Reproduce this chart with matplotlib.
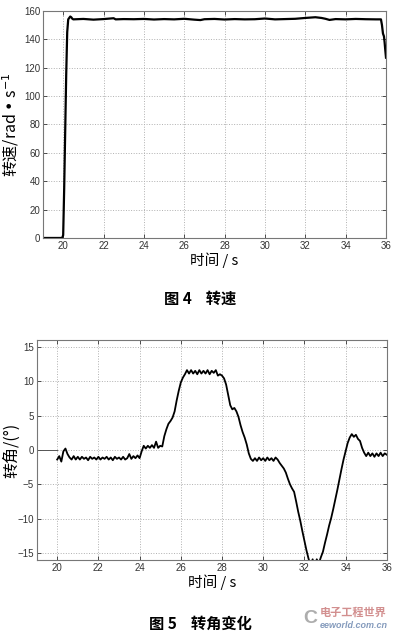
import numpy as np
import matplotlib.pyplot as plt

plt.rcParams['font.family'] = ['Liberation Sans', 'Noto Sans CJK SC', 'DejaVu Sans']

# --- Fig.4 speed data (rad/s) ---
speed_t = [19.0, 19.95, 20.0, 20.05, 20.1, 20.15, 20.2, 20.25, 20.3, 20.35, 20.4, 20.45,
           20.5, 21.0, 21.5, 22.0, 22.5, 22.6, 23.0, 23.5, 24.0, 24.5, 25.0, 25.5,
           26.0, 26.5, 26.8, 27.0, 27.5, 28.0, 28.5, 29.0, 29.5, 30.0, 30.5, 31.0,
           31.5, 32.0, 32.5, 32.8, 33.0, 33.2, 33.5, 34.0, 34.5, 35.0, 35.5, 35.75,
           35.8, 35.85, 35.9, 35.93, 35.96, 36.0]
speed_v = [0, 0, 2, 35, 75, 115, 145, 154, 155, 156, 155.5, 154.5,
           154, 154.3, 153.8, 154.2, 154.8, 154.0, 154.2, 154.1, 154.3, 153.9, 154.2, 154.0,
           154.4, 153.8, 153.5, 154.1, 154.3, 153.9, 154.2, 154.0, 154.1, 154.6, 154.0, 154.2,
           154.4, 155.0, 155.5, 155.0, 154.4, 153.6, 154.2, 154.0, 154.3, 154.1, 154.0, 154.0,
           150, 144, 142, 138, 133, 127]

# --- Fig.5 steering angle data (deg), sampled every 0.1 s from 20.0 s ---
angle_t0 = 20.0
angle_dt = 0.1
angle_v = [
    -1.4, -0.9, -1.7, -0.2, 0.2, -0.6, -1.1, -1.4, -0.9, -1.4,   # 20.0
    -1.0, -1.4, -1.0, -1.3, -1.1, -1.5, -1.0, -1.3, -1.1, -1.4,   # 21.0
    -1.0, -1.4, -1.1, -1.3, -1.0, -1.4, -1.1, -1.5, -1.0, -1.3,   # 22.0
    -1.1, -1.4, -1.0, -1.4, -1.2, -0.6, -1.3, -0.9, -1.2, -0.8,   # 23.0
    -1.2, -0.2, 0.6, 0.2, 0.6, 0.3, 0.7, 0.3, 1.2, 0.3,           # 24.0
    0.6, 0.5, 2.0, 3.0, 3.8, 4.2, 4.7, 5.6, 7.2, 8.6,             # 25.0
    9.8, 10.5, 11.0, 11.6, 11.1, 11.6, 11.1, 11.5, 11.0, 11.6,    # 26.0
    11.1, 11.5, 11.1, 11.6, 11.0, 11.5, 11.2, 11.6, 10.8, 11.0,   # 27.0
    10.8, 10.4, 9.5, 8.0, 6.5, 5.9, 6.1, 5.6, 4.8, 3.6,           # 28.0
    2.6, 1.8, 0.8, -0.5, -1.3, -1.6, -1.2, -1.6, -1.1, -1.5,      # 29.0
    -1.2, -1.6, -1.1, -1.5, -1.2, -1.6, -1.1, -1.4, -1.9, -2.3,   # 30.0
    -2.7, -3.3, -4.2, -5.0, -5.6, -6.1, -7.5, -9.0, -10.3, -11.8, # 31.0
    -13.2, -14.6, -15.8, -16.8, -15.9, -17.3, -15.9, -16.5, -15.6, -14.8,  # 32.0
    -13.5, -12.3, -11.0, -9.9, -8.6, -7.2, -5.8, -4.3, -2.8, -1.4, # 33.0
    -0.2, 1.0, 1.8, 2.3, 1.9, 2.2, 1.6, 1.3, 0.3, -0.4,           # 34.0
    -0.9, -0.4, -0.9, -0.5, -1.0, -0.5, -0.9, -0.4, -0.9, -0.5,   # 35.0
    -0.7]
angle_lead_t = [19.0, 20.0]
angle_lead_v = [0, 0]

xticks = [20, 22, 24, 26, 28, 30, 32, 34, 36]
speed_yticks = [0, 20, 40, 60, 80, 100, 120, 140, 160]
angle_yticks = [-15, -10, -5, 0, 5, 10, 15]

angle_t = angle_t0 + angle_dt * np.arange(len(angle_v))

fig = plt.figure(figsize=(4.0, 6.38), dpi=100)
ax1 = fig.add_axes([0.1075, 0.627, 0.8575, 0.356])
ax2 = fig.add_axes([0.0915, 0.1223, 0.8755, 0.345])


def style(ax, yticks, ylim):
    ax.set_xlim(19, 36)
    ax.set_ylim(*ylim)
    ax.set_xticks(xticks)
    ax.set_yticks(yticks)
    ax.grid(True, linestyle=':', color='#b0b0b0', linewidth=0.7)
    ax.tick_params(direction='in', length=3, width=0.6, labelsize=7, pad=2,
                   top=True, right=True, colors='#333333')
    for s in ax.spines.values():
        s.set_color('#777777')
        s.set_linewidth(0.8)
    ax.set_xlabel('时间 / s', fontsize=10.5, family=['Noto Sans CJK SC'], labelpad=1)


ax1.plot(speed_t, speed_v, color='black', linewidth=1.6)
style(ax1, speed_yticks, (0, 160))
ax1.set_ylabel('转速/rad • s$^{-1}$', fontsize=11.5, family=['Noto Sans CJK SC', 'DejaVu Sans'])
ax1.yaxis.set_label_coords(-0.065, 0.5)

ax2.plot(angle_lead_t, angle_lead_v, color='#555555', linewidth=0.7)
ax2.plot(angle_t, angle_v, color='black', linewidth=1.3)
style(ax2, angle_yticks, (-16, 16))
ax2.set_ylabel('转角/(°)', fontsize=11.5, family=['Noto Sans CJK SC', 'DejaVu Sans'])
ax2.yaxis.set_label_coords(-0.048, 0.5)

fig.text(0.5, 0.532, '图 4    转速', ha='center', va='center', fontsize=11,
         fontweight='bold', family=['Noto Sans CJK SC'])
fig.text(0.5, 0.022, '图 5    转角变化', ha='center', va='center', fontsize=11,
         fontweight='bold', family=['Noto Sans CJK SC'])

# watermark
fig.text(0.80, 0.040, '电子工程世界', ha='left', va='center', fontsize=8,
         color='#c06060', alpha=0.7, family=['Noto Sans CJK SC'], fontweight='bold')
fig.text(0.80, 0.020, 'eeworld.com.cn', ha='left', va='center', fontsize=6.5,
         color='#5070a0', alpha=0.7, style='italic', fontweight='bold')
fig.text(0.775, 0.030, 'C', ha='center', va='center', fontsize=14, color='#999999',
         alpha=0.8, fontweight='bold')

fig.savefig('out.png', dpi=100)
